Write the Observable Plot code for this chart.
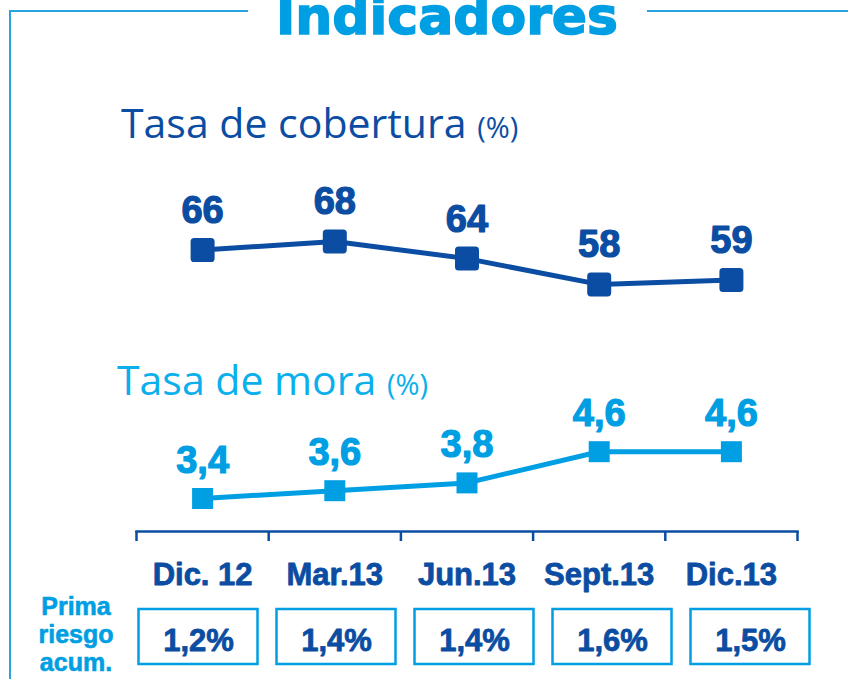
<!DOCTYPE html>
<html><head><meta charset="utf-8">
<script src="https://cdn.jsdelivr.net/npm/d3@7"></script>
<script src="https://cdn.jsdelivr.net/npm/@observablehq/plot@0.6"></script>
<style>
html,body{margin:0;padding:0;background:#fff;}
#page{position:relative;width:848px;height:679px;overflow:hidden;background:#fff;}
.abs{position:absolute;white-space:nowrap;}
.layer{position:absolute;left:0;top:0;}
.line{position:absolute;background:#2aa4e1;}
</style></head><body>
<div id="page">
  <div class="line" style="left:9px;top:10px;width:239px;height:2px"></div>
  <div class="line" style="left:647px;top:10px;width:201px;height:2px"></div>
  <div class="line" style="left:9px;top:10px;width:2px;height:669px"></div>
  <div class="abs" style="left:247px;top:-10px;width:400px;text-align:center;font:bold 52px/52px 'DejaVu Sans';color:#009fe3;-webkit-text-stroke:1.5px #009fe3">Indicadores</div>
  <div class="abs" style="left:121px;top:102px;font:41px/41px 'Open Sans';color:#0b4da2">Tasa de cobertura <span style="font-size:29px">(%)</span></div>
  <div class="abs" style="left:117px;top:359px;font:41px/41px 'Open Sans';color:#0aafeb">Tasa de mora <span style="font-size:29px">(%)</span></div>
  <div class="abs" style="left:16px;top:592px;width:120px;text-align:center;font:bold 25px/28px 'Liberation Sans';color:#009fe3;-webkit-text-stroke:0.6px #009fe3">Prima<br>riesgo<br>acum.</div>
  <div id="plots"></div>
</div>
<script>
const periods = ["Dic. 12", "Mar.13", "Jun.13", "Sept.13", "Dic.13"];
const cobertura = [66, 68, 64, 58, 59];
const mora = [3.4, 3.6, 3.8, 4.6, 4.6];
const primaRiesgo = [1.2, 1.4, 1.4, 1.6, 1.5];

const DARK = "#0b4da2", LIGHT = "#009fe3";
const FONT = "'Liberation Sans', Arial, sans-serif";
const fmt1 = v => v.toFixed(1).replace(".", ",");

const cob = periods.map((p, i) => ({p, i: i + 0.5, v: cobertura[i]}));
const mor = periods.map((p, i) => ({p, i: i + 0.5, v: mora[i]}));
const pri = periods.map((p, i) => ({p, v: primaRiesgo[i]}));

const roundSquare = {
  draw(ctx, size) {
    const s = Math.sqrt(size), h = s / 2, r = s * 0.15;
    ctx.moveTo(-h + r, -h); ctx.lineTo(h - r, -h); ctx.arcTo(h, -h, h, -h + r, r);
    ctx.lineTo(h, h - r); ctx.arcTo(h, h, h - r, h, r);
    ctx.lineTo(-h + r, h); ctx.arcTo(-h, h, -h, h - r, r);
    ctx.lineTo(-h, -h + r); ctx.arcTo(-h, -h, -h + r, -h, r);
    ctx.closePath();
  }
};
const style = {background: "transparent", overflow: "visible", fontFamily: FONT};

const plotA = Plot.plot({
  width: 848, height: 320, marginLeft: 136, marginRight: 51, marginTop: 0, marginBottom: 0,
  style,
  x: {domain: [0, 5], axis: null},
  y: {domain: [58, 68], range: [283.9, 240.9], axis: null},
  marks: [
    Plot.line(cob, {x: "i", y: "v", stroke: DARK, strokeWidth: 5}),
    Plot.dot(cob, {x: "i", y: "v", symbol: roundSquare, r: 24 / Math.sqrt(Math.PI), fill: DARK}),
    Plot.text(cob, {x: "i", y: "v", text: d => String(d.v), lineAnchor: "bottom", dy: -27,
      fill: DARK, stroke: DARK, strokeWidth: 1.2, fontSize: 38, fontWeight: "bold"})
  ]
});

const plotB = Plot.plot({
  width: 848, height: 600, marginLeft: 136, marginRight: 51, marginTop: 0, marginBottom: 69,
  style,
  x: {domain: [0, 5], axis: null},
  y: {domain: [3.4, 4.6], range: [498, 451.2], axis: null},
  marks: [
    Plot.frame({anchor: "bottom", stroke: DARK, strokeWidth: 2.5}),
    Plot.axisX({ticks: d3.range(6), tickSize: 10, tickFormat: () => "", stroke: DARK, strokeWidth: 2.5, label: null}),
    Plot.text(periods, {x: (d, i) => i + 0.5, text: d => d, frameAnchor: "bottom", lineAnchor: "bottom", dy: 53,
      fill: DARK, stroke: DARK, strokeWidth: 0.8, fontSize: 31, fontWeight: "bold"}),
    Plot.line(mor, {x: "i", y: "v", stroke: LIGHT, strokeWidth: 5}),
    Plot.dot(mor, {x: "i", y: "v", symbol: "square", r: 21 / Math.sqrt(Math.PI), fill: LIGHT}),
    Plot.text(mor, {x: "i", y: "v", text: d => fmt1(d.v), lineAnchor: "bottom", dy: -26,
      fill: LIGHT, stroke: LIGHT, strokeWidth: 1.2, fontSize: 38, fontWeight: "bold"})
  ]
});

const plotC = Plot.plot({
  width: 848, height: 679, marginLeft: 128.5, marginRight: 29.5, marginTop: 609, marginBottom: 15,
  style,
  x: {domain: periods, padding: 0, axis: null},
  marks: [
    Plot.cell(pri, {x: "p", fill: "white", stroke: LIGHT, strokeWidth: 2.5, insetLeft: 9.5, insetRight: 9.5}),
    Plot.text(pri, {x: "p", text: d => fmt1(d.v) + "%", frameAnchor: "middle", lineAnchor: "bottom", dy: 13.5,
      fill: DARK, stroke: DARK, strokeWidth: 0.8, fontSize: 31, fontWeight: "bold"})
  ]
});

const host = document.getElementById("plots");
for (const p of [plotA, plotB, plotC]) { p.classList.add("layer"); host.appendChild(p); }
</script>
</body></html>
